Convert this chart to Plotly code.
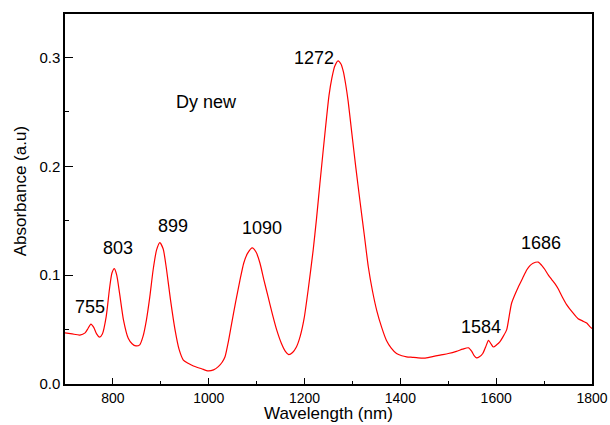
import plotly.graph_objects as go

wavelength = [700, 715, 731, 742, 748, 754, 760, 766, 772, 778, 786, 793, 798, 803, 808, 814, 822, 832, 840, 848,
              856, 863, 870, 877, 884, 891, 898, 905, 912, 920, 930, 938, 947, 957, 968, 985, 999, 1010, 1020, 1028,
              1034, 1041, 1048, 1056, 1065, 1073, 1081, 1091, 1099, 1107, 1115, 1124, 1133, 1142, 1152, 1160, 1167,
              1175, 1183, 1191, 1199, 1208, 1218, 1225, 1232, 1239, 1246, 1251, 1257, 1263, 1270, 1276, 1281, 1286,
              1291, 1298, 1307, 1316, 1325, 1333, 1342, 1351, 1361, 1371, 1381, 1392, 1403, 1413, 1425, 1437, 1450,
              1465, 1483, 1500, 1517, 1530, 1542, 1549, 1554, 1559, 1565, 1572, 1578, 1584, 1589, 1594, 1601, 1608,
              1615, 1622, 1627, 1632, 1639, 1646, 1655, 1664, 1671, 1677, 1688, 1695, 1702, 1709, 1716, 1723, 1730,
              1738, 1747, 1759, 1771, 1780, 1789, 1795, 1800]
absorbance = [0.047, 0.046, 0.045, 0.047, 0.051, 0.055, 0.052, 0.046, 0.043, 0.046, 0.062, 0.088, 0.102, 0.106,
              0.100, 0.083, 0.059, 0.042, 0.037, 0.035, 0.036, 0.044, 0.059, 0.080, 0.105, 0.123, 0.130, 0.124,
              0.105, 0.078, 0.049, 0.032, 0.022, 0.019, 0.0165, 0.014, 0.012, 0.013, 0.016, 0.020, 0.025, 0.039,
              0.056, 0.075, 0.095, 0.111, 0.120, 0.125, 0.121, 0.111, 0.096, 0.080, 0.064, 0.0495, 0.037, 0.030,
              0.027, 0.029, 0.034, 0.044, 0.060, 0.088, 0.123, 0.152, 0.184, 0.215, 0.245, 0.265, 0.281, 0.292,
              0.297, 0.294, 0.287, 0.275, 0.260, 0.233, 0.199, 0.167, 0.136, 0.108, 0.085, 0.067, 0.052, 0.040,
              0.033, 0.028, 0.026, 0.025, 0.0245, 0.024, 0.0238, 0.025, 0.0266, 0.028, 0.030, 0.032, 0.0333, 0.030,
              0.026, 0.024, 0.025, 0.028, 0.034, 0.040, 0.037, 0.034, 0.036, 0.039, 0.044, 0.050, 0.062, 0.074,
              0.082, 0.089, 0.097, 0.105, 0.109, 0.111, 0.112, 0.109, 0.105, 0.100, 0.096, 0.092, 0.087, 0.080,
              0.073, 0.066, 0.060, 0.058, 0.056, 0.053, 0.051]

peak_labels = ["755", "803", "899", "1090", "1272", "1584", "1686"]
peak_label_x = [752, 810, 925, 1112, 1220, 1569, 1693]
peak_label_y = [0.0706, 0.1248, 0.145, 0.143, 0.300, 0.0523, 0.1294]

sample_label = "Dy new"
x_title = "Wavelength (nm)"
y_title = "Absorbance (a.u)"

FONT = "Arial, 'Liberation Sans', sans-serif"

fig = go.Figure()
fig.add_trace(go.Scatter(x=wavelength, y=absorbance, mode="lines",
                         line=dict(color="#ff0000", width=1.2, shape="spline", smoothing=0.6),
                         showlegend=False, hoverinfo="skip"))

for t, x, y in zip(peak_labels, peak_label_x, peak_label_y):
    fig.add_annotation(x=x, y=y, xref="x", yref="y", text=t, showarrow=False,
                       font=dict(family=FONT, size=18, color="#000000"))
fig.add_annotation(x=995, y=0.2587, xref="x", yref="y", text=sample_label, showarrow=False,
                   font=dict(family=FONT, size=18, color="#000000"))

# axis titles
fig.add_annotation(x=0.5, y=-0.109, xref="paper", yref="paper", text=x_title, showarrow=False,
                   xanchor="center", yanchor="bottom", borderpad=0,
                   font=dict(family=FONT, size=17, color="#000000"))
fig.add_annotation(x=-0.084, y=0.52, xref="paper", yref="paper", text=y_title, showarrow=False,
                   textangle=-90, xanchor="center", yanchor="middle",
                   font=dict(family=FONT, size=17, color="#000000"))

fig.update_layout(
    width=610, height=425,
    margin=dict(l=65, r=18, t=14, b=41),
    paper_bgcolor="white", plot_bgcolor="white",
    font=dict(family=FONT, size=14, color="#000000"),
    xaxis=dict(range=[700, 1800], tickvals=[800, 1000, 1200, 1400, 1600, 1800],
               ticks="inside", ticklen=6, tickwidth=1.2, tickcolor="black",
               minor=dict(tickvals=[900, 1100, 1300, 1500, 1700], ticks="inside", ticklen=3, tickwidth=1.2, tickcolor="black"),
               showline=True, linecolor="black", linewidth=1.5, mirror=True,
               showgrid=False, zeroline=False, automargin=False,
               tickfont=dict(size=14)),
    yaxis=dict(range=[0, 0.34], tickvals=[0.0, 0.1, 0.2, 0.3], ticktext=["0.0", "0.1", "0.2", "0.3"],
               ticks="inside", ticklen=8, tickwidth=1.2, tickcolor="black",
               minor=dict(tickvals=[0.05, 0.15, 0.25], ticks="inside", ticklen=4, tickwidth=1.2, tickcolor="black"),
               showline=True, linecolor="black", linewidth=1.5, mirror=True,
               showgrid=False, zeroline=False, automargin=False,
               tickfont=dict(size=15)),
)

fig.write_html("out.html")
